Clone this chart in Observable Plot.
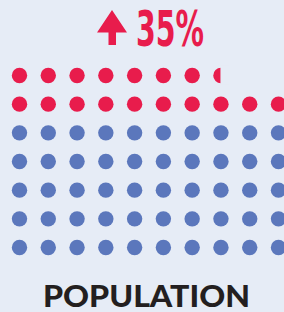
<!DOCTYPE html>
<html><head><meta charset="utf-8">
<script src="https://cdn.jsdelivr.net/npm/d3@7"></script>
<script src="https://cdn.jsdelivr.net/npm/@observablehq/plot@0.6"></script>
<style>
html,body{margin:0;padding:0;background:#e6ecf6;}
#wrap{position:relative;width:284px;height:312px;overflow:hidden;background:#e6ecf6;}
#chart,#overlay{position:absolute;left:0;top:0;}
</style>
</head><body>
<div id="wrap"><div id="chart"></div>
<svg id="overlay" width="284" height="312">
  <polygon id="arrow" points="112,10 97,32.5 108.5,32.5 108.5,45 116,45 116,32.5 127,32.5" fill="#e81c4c"/>
  <text id="pct" x="136" y="46" font-family="'Liberation Sans Narrow','DejaVu Sans Condensed',sans-serif" font-weight="700" font-size="49" fill="#e81c4c" textLength="68" lengthAdjust="spacingAndGlyphs"></text>
  <text id="cap" x="43" y="306.5" font-family="Lato,'Open Sans',sans-serif" font-weight="900" font-size="30" fill="#231f20" textLength="207" lengthAdjust="spacingAndGlyphs"></text>
</svg>
</div>
<script>
// Data
const categories = ["Baseline", "Increase"];
const dotCounts = [50, 17.5];          // dots per category (increase = 35% of 50)
const changeLabel = ["35%"];
const captionLabel = ["POPULATION"];
const columns = 10;
const rows = 7;

const colors = {Baseline: "#5b77bc", Increase: "#e81c4c"};
const bg = "#e6ecf6";

// build dots filling from bottom row upward, left to right
const dots = [];
const covers = [];
let k = 0;
categories.forEach((cat, ci) => {
  const n = dotCounts[ci];
  const whole = Math.ceil(n);
  for (let i = 0; i < whole; i++, k++) {
    const col = k % columns, row = Math.floor(k / columns);
    dots.push({cat, col, row});
    const frac = n - i;
    if (frac < 1) covers.push({col, row, frac});
  }
});

const rPx = 7.7;
const cellPx = 28.8;
const rU = rPx / cellPx;

const chart = Plot.plot({
  width: 284,
  height: 312,
  margin: 0,
  style: {background: "transparent"},
  x: {domain: [0, columns - 1], range: [19, 278], axis: null},
  y: {domain: [0, rows - 1], range: [247, 75], axis: null},
  marks: [
    Plot.dot(dots, {x: "col", y: "row", r: rPx, fill: d => colors[d.cat], stroke: "none"}),
    Plot.rect(covers, {
      x1: d => d.col + (2 * d.frac - 1) * rU,
      x2: d => d.col + rU + 0.05,
      y1: d => d.row - rU - 0.05,
      y2: d => d.row + rU + 0.05,
      fill: bg
    })
  ]
});
document.getElementById("chart").appendChild(chart);
document.getElementById("pct").textContent = changeLabel[0];
document.getElementById("cap").textContent = captionLabel[0];
</script>
</body></html>
